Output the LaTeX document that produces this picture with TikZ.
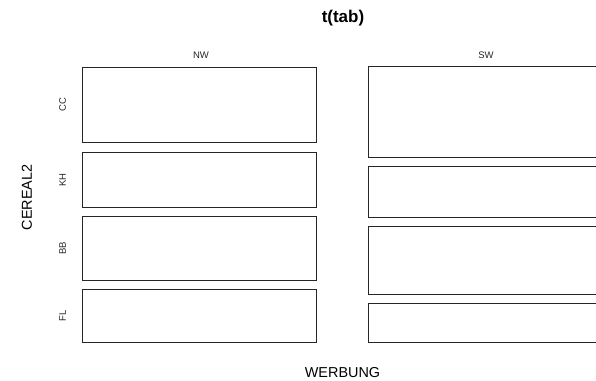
\documentclass[tikz,border=0pt]{standalone}
\usepackage{fontspec}
\setmainfont{Liberation Sans}
\begin{document}
\begin{tikzpicture}[x=1pt, y=-1pt,
    tile/.style={draw=black!85, line width=0.8pt}, % mosaic cells
    lvl/.style={font=\fontsize{9.5}{11}\selectfont, text=black!85, inner sep=0pt},
    axlab/.style={font=\fontsize{14.4}{17}\selectfont, inner sep=0pt}
    ]
\useasboundingbox (0,0) rectangle (596,380);

\node[font=\fontsize{17}{20}\selectfont\bfseries, inner sep=0pt] (title) at (343,18.5) {t(tab)};
\node[axlab] (xlab) at (342.5,372.5) {WERBUNG};
\node[axlab, rotate=90] (ylab) at (27,197.5) {CEREAL2};

% column labels
\node[lvl] (nw) at (201,55) {NW};
\node[lvl] (sw) at (486,55) {SW};

% NW column
\foreach \lab/\ya/\yb in {CC/67/142.7, KH/152.3/207.3, BB/216.7/280, FL/289.3/342.7} {
  \draw[tile] (82.3,\ya) rectangle (316.7,\yb);
  \node[lvl, rotate=90] (\lab) at (62.5,{(\ya+\yb)/2}) {\lab};
}

% SW column (runs off the right edge)
\begin{scope}
\clip (0,0) rectangle (596,380);
\foreach \ya/\yb in {66.7/157, 166/217.7, 226.7/294.3, 303.7/342.7}
  \draw[tile] (368.3,\ya) rectangle (602.7,\yb);
\end{scope}
\end{tikzpicture}
\end{document}
